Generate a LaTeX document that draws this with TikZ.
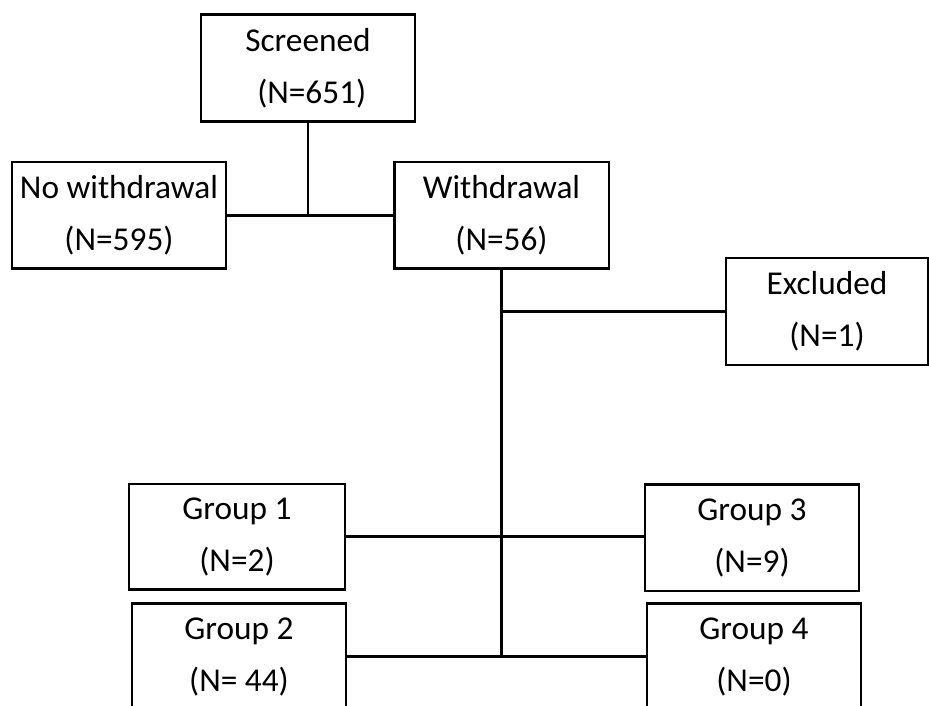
\documentclass[tikz,border=0pt]{standalone}
\usepackage{fontspec}
\setmainfont{Carlito}
\begin{document}
\begin{tikzpicture}[x=0.75pt,y=-0.75pt,
  box/.style={draw,line width=2pt,rectangle,inner sep=0pt,align=center,
    font=\fontsize{25}{39}\selectfont,minimum height=80pt},
  link/.style={line width=1.6pt}]
\useasboundingbox (0,0) rectangle (929,706);
\clip (0,0) rectangle (929,706);
\node[box,minimum width=160.5pt] (scr) at (308,68) {Screened\\\ (N=651)};
\node[box,minimum width=160.5pt] (now) at (119,215.5) {No withdrawal\\(N=595)};
\node[box,minimum width=161pt] (wd) at (501.5,215.5) {Withdrawal\\(N=56)};
\node[box,minimum width=151.5pt] (exc) at (827,311.5) {Excluded\\(N=1)};
\node[box,minimum width=162pt,minimum height=79pt] (g1) at (237,536.5) {Group 1\\(N=2)};
\node[box,minimum width=160.5pt] (g3) at (752,537.5) {Group 3\\(N=9)};
\node[box,minimum width=160.5pt] (g2) at (239,656.5) {Group 2\\(N= 44)};
\node[box,minimum width=160.5pt] (g4) at (754,656.5) {Group 4\\(N=0)};
\coordinate (j1) at (scr.south |- now.east);
\coordinate (j2) at (wd.south |- g2.east);
\coordinate (j3) at (wd.south |- exc.west);
\coordinate (j4) at (g3.west |- g1.east);
\draw[link] (scr.south) -- (j1);
\draw[link] (now.east) -- (wd.west);
\draw[link] (wd.south) -- (j2);
\draw[link] (j3) -- (exc.west);
\draw[link] (g1.east) -- (j4);
\draw[link] (g2.east) -- (g4.west);
\end{tikzpicture}
\end{document}
